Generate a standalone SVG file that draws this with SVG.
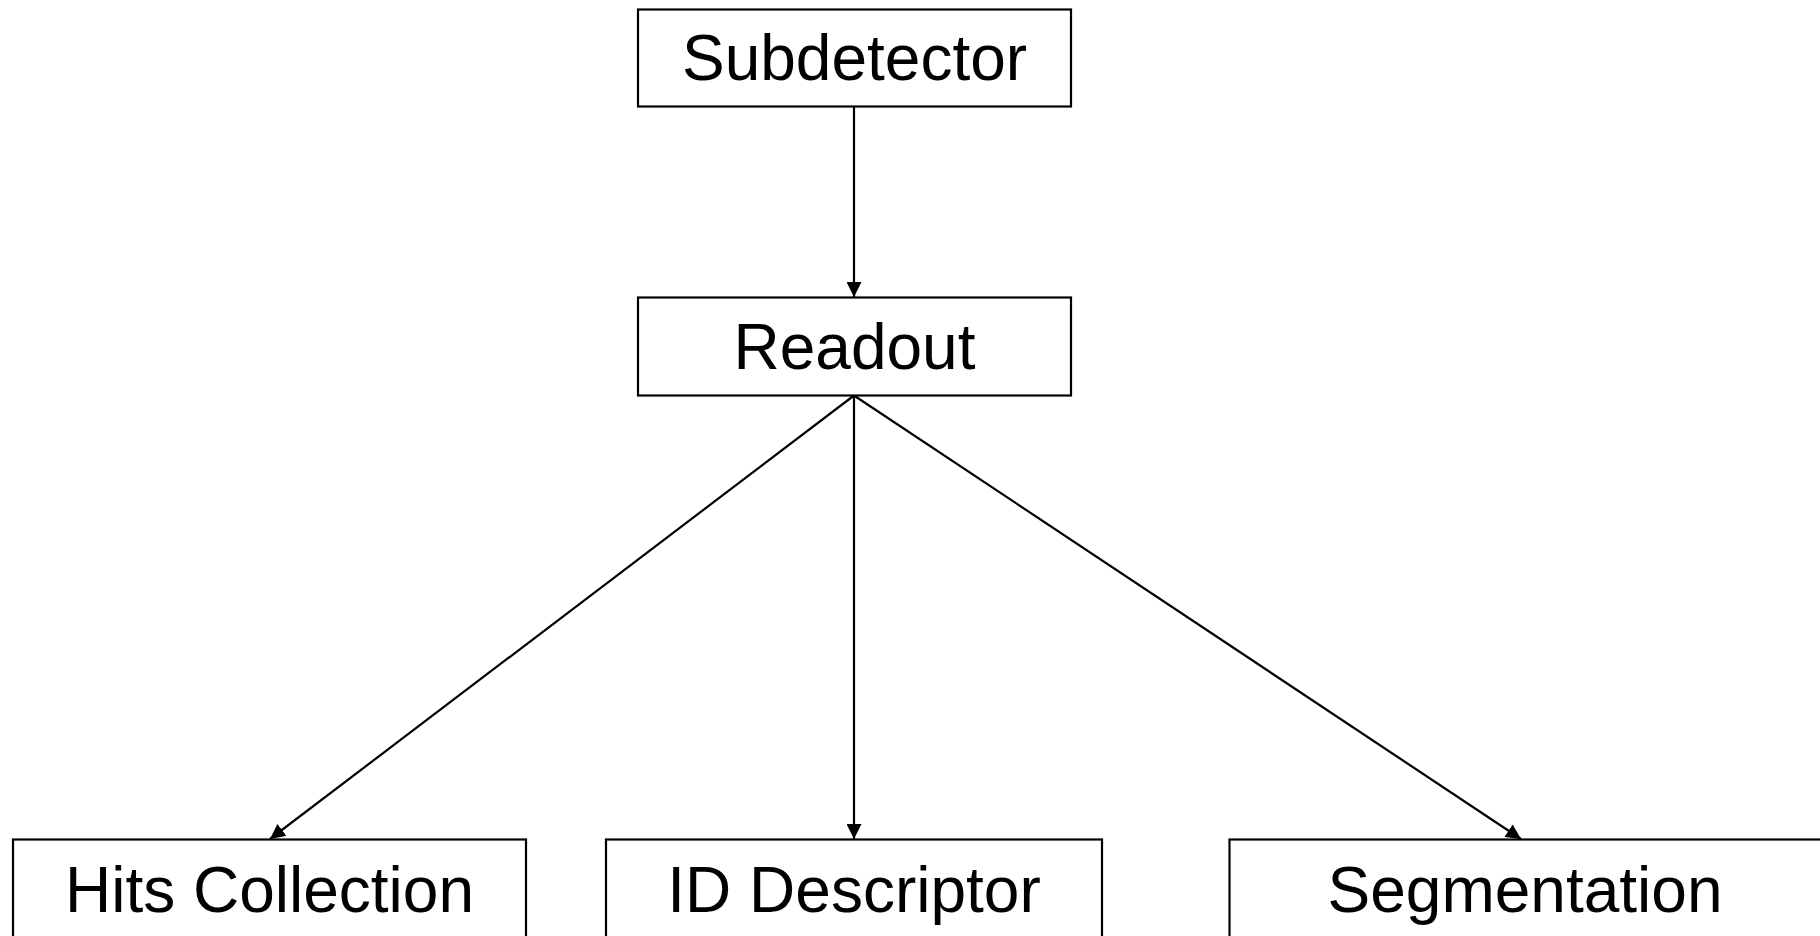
<svg xmlns="http://www.w3.org/2000/svg" width="1820" height="936" viewBox="0 0 1820 936">
<style>
.box{fill:#fff;stroke:#000;stroke-width:2.2}
.lbl{font-family:"Liberation Sans",Arial,sans-serif;font-size:64px;fill:#000;text-anchor:middle}
.edge{stroke:#000;stroke-width:2.2;fill:none;marker-end:url(#arr)}
</style>
<defs>
<marker id="arr" markerUnits="userSpaceOnUse" markerWidth="17" markerHeight="15" refX="15" refY="7.5" orient="auto">
<path d="M0,0 L15,7.5 L0,15 Z" fill="#000"/>
</marker>
</defs>
<rect width="1820" height="936" fill="#fff"/>
<g id="connectors">
<line class="edge" x1="854" y1="106.5" x2="854" y2="297"/>
<line class="edge" x1="854" y1="395.5" x2="270" y2="839"/>
<line class="edge" x1="854" y1="395.5" x2="854" y2="839"/>
<line class="edge" x1="854" y1="395.5" x2="1521" y2="839"/>
</g>
<g id="subdetector">
<rect class="box" x="638" y="9.5" width="433" height="97"/>
<text class="lbl" x="854.5" y="80">Subdetector</text>
</g>
<g id="readout">
<rect class="box" x="638" y="297.5" width="433" height="98"/>
<text class="lbl" x="854.5" y="369">Readout</text>
</g>
<g id="hits">
<rect class="box" x="13" y="839.5" width="513" height="110"/>
<text class="lbl" x="269.5" y="912">Hits Collection</text>
</g>
<g id="iddesc">
<rect class="box" x="606" y="839.5" width="496" height="110"/>
<text class="lbl" x="854" y="912">ID Descriptor</text>
</g>
<g id="segmentation">
<rect class="box" x="1229.5" y="839.5" width="600" height="110"/>
<text class="lbl" x="1525" y="912">Segmentation</text>
</g>
</svg>
